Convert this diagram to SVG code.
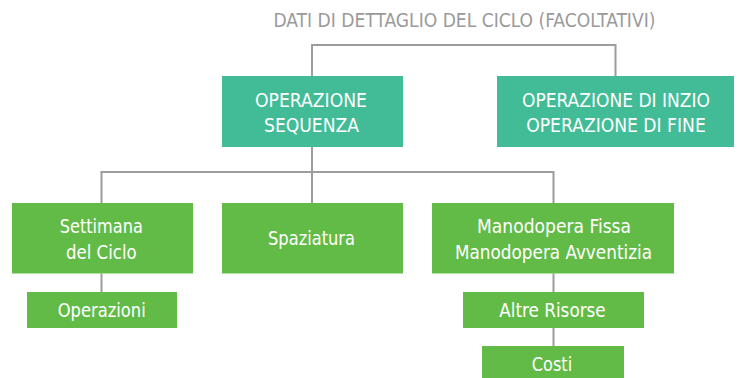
<svg xmlns="http://www.w3.org/2000/svg" width="740" height="378" viewBox="0 0 740 378">
<style>
text{font-family:"Liberation Sans Narrow","DejaVu Sans Condensed","Roboto","Liberation Sans",sans-serif;font-size:20px;text-anchor:middle;fill:#ffffff}
.title{fill:#9a9a9a;font-size:19.5px}
.teal{fill:#42bc97}
.green{fill:#63bb47}
.conn{fill:none;stroke:#9c9c9c;stroke-width:2}
</style>
<rect width="740" height="378" fill="#ffffff"/>
<text class="title" x="464.4" y="26.7" textLength="382" lengthAdjust="spacingAndGlyphs">DATI DI DETTAGLIO DEL CICLO (FACOLTATIVI)</text>
<g id="connectors">
<path class="conn" d="M312 76 V45 H615.5 V76"/>
<path class="conn" d="M312 147 V203"/>
<path class="conn" d="M101.5 203 V172 H553.5 V203"/>
<path class="conn" d="M101.5 273.5 V292"/>
<path class="conn" d="M553.5 273.5 V292"/>
<path class="conn" d="M553.5 328 V346"/>
</g>
<g id="sequenza">
<rect class="teal" x="222" y="76" width="181" height="71"/>
<text x="311" y="106.7" textLength="112" lengthAdjust="spacingAndGlyphs">OPERAZIONE</text>
<text x="311.5" y="132" textLength="95" lengthAdjust="spacingAndGlyphs">SEQUENZA</text>
</g>
<g id="inizio-fine">
<rect class="teal" x="497" y="76" width="237" height="71"/>
<text x="616" y="106.7" textLength="188" lengthAdjust="spacingAndGlyphs">OPERAZIONE DI INZIO</text>
<text x="616" y="132" textLength="179.5" lengthAdjust="spacingAndGlyphs">OPERAZIONE DI FINE</text>
</g>
<g id="settimana">
<rect class="green" x="12" y="203" width="181" height="70.5"/>
<text x="101.3" y="232.7" textLength="83" lengthAdjust="spacingAndGlyphs">Settimana</text>
<text x="101.3" y="259" textLength="70.7" lengthAdjust="spacingAndGlyphs">del Ciclo</text>
</g>
<g id="spaziatura">
<rect class="green" x="222" y="203" width="181" height="70.5"/>
<text x="311.5" y="245" textLength="87" lengthAdjust="spacingAndGlyphs">Spaziatura</text>
</g>
<g id="manodopera">
<rect class="green" x="432" y="203" width="242" height="70.5"/>
<text x="554" y="233" textLength="154" lengthAdjust="spacingAndGlyphs">Manodopera Fissa</text>
<text x="553.5" y="259" textLength="197" lengthAdjust="spacingAndGlyphs">Manodopera Avventizia</text>
</g>
<g id="operazioni">
<rect class="green" x="27" y="292" width="150" height="36"/>
<text x="101.7" y="316.7" textLength="88" lengthAdjust="spacingAndGlyphs">Operazioni</text>
</g>
<g id="altre-risorse">
<rect class="green" x="463" y="292" width="181" height="36"/>
<text x="552.5" y="316.7" textLength="106.4" lengthAdjust="spacingAndGlyphs">Altre Risorse</text>
</g>
<g id="costi">
<rect class="green" x="482" y="346" width="142" height="32"/>
<text x="552" y="371" textLength="40.3" lengthAdjust="spacingAndGlyphs">Costi</text>
</g>
</svg>
